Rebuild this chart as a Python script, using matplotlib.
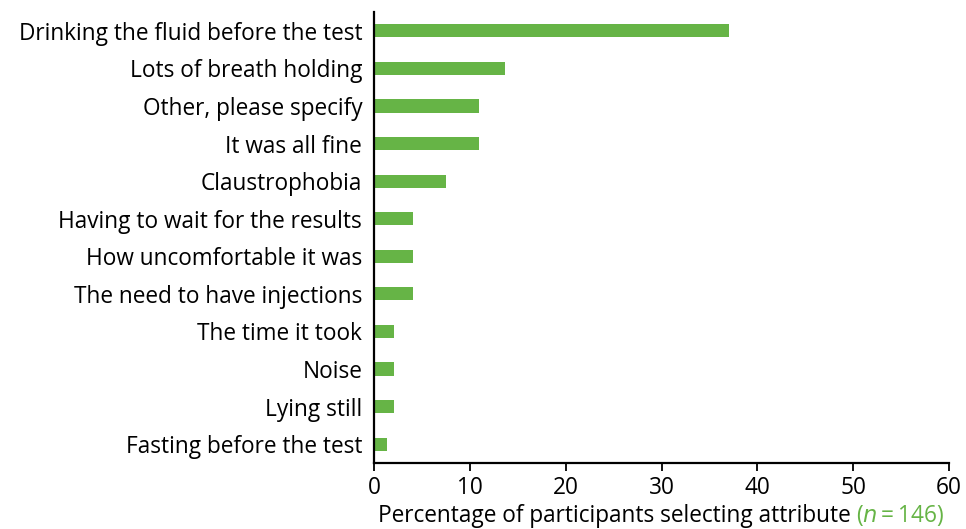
import numpy as np
import matplotlib
matplotlib.use("Agg")
from matplotlib import pyplot as plt

# Data (percent of 146 participants)
labels = ["Drinking the fluid before the test", "Lots of breath holding",
          "Other, please specify", "It was all fine", "Claustrophobia",
          "Having to wait for the results", "How uncomfortable it was",
          "The need to have injections", "The time it took", "Noise",
          "Lying still", "Fasting before the test"]
values = [37.0, 13.7, 11.0, 11.0, 7.5, 4.1, 4.1, 4.1, 2.1, 2.1, 2.1, 1.4]
xticks = [0, 10, 20, 30, 40, 50, 60]

green = "#66b446"
plt.rcParams['font.family'] = ['Open Sans', 'DejaVu Sans']
fs = 16.3

fig = plt.figure(figsize=(9.66, 5.29), dpi=100)
ax = fig.add_axes([374/966, 1 - 463/529, (949-374)/966, (463-12)/529])

y = np.arange(len(labels))
ax.barh(y, values, height=0.35, color=green)
ax.set_ylim(len(labels) - 0.5, -0.5)
ax.set_xlim(0, 60)
ax.set_xticks(xticks)
ax.set_yticks(y)
ax.set_yticklabels(labels, fontsize=fs)
ax.tick_params(axis='y', length=0, pad=8.5)
ax.tick_params(axis='x', labelsize=fs, length=6, width=1.3, pad=3)
for s in ["top", "right"]:
    ax.spines[s].set_visible(False)
for s in ["left", "bottom"]:
    ax.spines[s].set_linewidth(1.6)

# x label with green sample size
t1 = fig.text(0, 0, "Percentage of participants selecting attribute ", fontsize=fs,
              va='baseline')
t2 = fig.text(0, 0, "($\\it{n}$\u2009=\u2009146)", fontsize=fs, color=green,
              va='baseline')
fig.canvas.draw()
r = fig.canvas.get_renderer()
w1 = t1.get_window_extent(r).width
w2 = t2.get_window_extent(r).width
x0 = 661 - (w1 + w2) / 2
yb = 1 - 522 / 529
t1.set_position((x0 / 966, yb))
t2.set_position(((x0 + w1) / 966, yb))

fig.savefig("out.png", dpi=100)
